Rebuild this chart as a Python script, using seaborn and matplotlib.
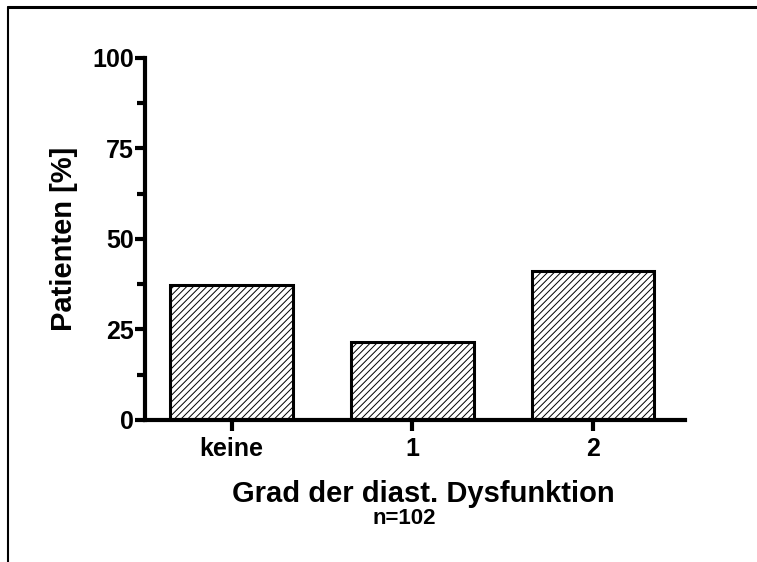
import numpy as np
import pandas as pd
import matplotlib
matplotlib.use("Agg")
import matplotlib.pyplot as plt
import seaborn as sns
from matplotlib.ticker import MultipleLocator

grades = ["keine", "1", "2"]
patients_pct = [37.25, 21.57, 41.18]
yticks = [0, 25, 50, 75, 100]

sns.set_style("ticks")
plt.rcParams['font.family'] = ['Liberation Sans', 'DejaVu Sans']
plt.rcParams['font.weight'] = 'bold'
plt.rcParams['hatch.linewidth'] = 0.7
plt.rcParams['hatch.color'] = 'black'
for key in ['text.color', 'axes.labelcolor', 'xtick.color', 'ytick.color']:
    plt.rcParams[key] = 'black'

df = pd.DataFrame({'Grad': grades, 'Patienten': patients_pct})

fig = plt.figure(figsize=(7.57, 5.62), dpi=100)
ax = fig.add_axes([0.1915, 0.2527, 0.7135, 0.6441])

sns.barplot(data=df, x='Grad', y='Patienten', ax=ax, color='white',
            edgecolor='black', linewidth=2.2, width=0.68, hatch='/////',
            errorbar=None)

ax.set_xlim(-0.48, 2.51)
ax.set_ylim(0, 100)
ax.set_yticks(yticks)
ax.yaxis.set_minor_locator(MultipleLocator(12.5))

for side in ['top', 'right']:
    ax.spines[side].set_visible(False)
for side in ['left', 'bottom']:
    ax.spines[side].set_linewidth(3)
    ax.spines[side].set_color('black')

ax.tick_params(axis='y', which='major', length=7, width=3, labelsize=18, pad=1)
ax.tick_params(axis='y', which='minor', length=6, width=3)
ax.tick_params(axis='x', which='major', length=8, width=3, labelsize=18, pad=4)
for lab in ax.get_xticklabels() + ax.get_yticklabels():
    lab.set_fontweight('bold')

ax.set_ylabel('Patienten [%]', fontsize=21, fontweight='bold')
ax.yaxis.set_label_coords(-0.124, 0.5)
ax.set_xlabel('')
fig.text(0.559, 0.121, 'Grad der diast. Dysfunktion', ha='center', va='center',
         fontsize=21, fontweight='bold')
fig.text(0.534, 0.078, 'n=102', ha='center', va='center', fontsize=16, fontweight='bold')

# frame lines around the figure (top and left only)
fig.add_artist(plt.Line2D([0.011, 1.0], [0.988, 0.988], color='black', lw=2.2, transform=fig.transFigure))
fig.add_artist(plt.Line2D([0.011, 0.011], [0.0, 0.988], color='black', lw=1.5, transform=fig.transFigure))

fig.savefig('out.png', dpi=100)
